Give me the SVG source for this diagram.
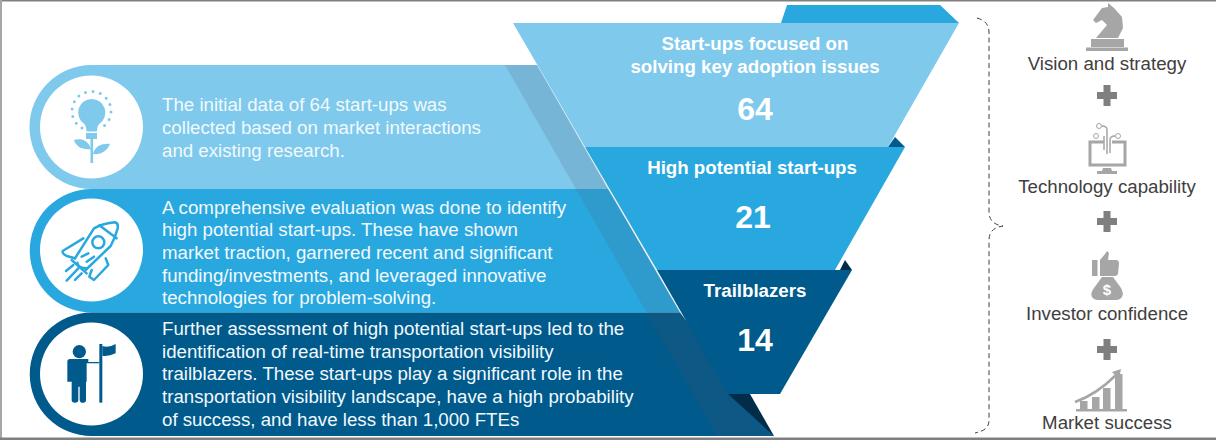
<svg xmlns="http://www.w3.org/2000/svg" width="1216" height="440" viewBox="0 0 1216 440">
<style>
text{font-family:"Liberation Sans",Arial,sans-serif}
.b{font-size:18.7px;fill:#f2f9fd}
.t{font-size:18.7px;font-weight:bold;fill:#fff;text-anchor:middle}
.n{font-size:32px;font-weight:bold;fill:#fff;text-anchor:middle}
.l{font-size:18.7px;fill:#404040;text-anchor:middle}
.g{fill:#a6a6a6}
.p{fill:#7f7f7f}
</style>
<rect width="1216" height="440" fill="#fff"/>
<g id="frame" fill="#a6a6a6"><rect width="1216" height="1.5" fill="#808080"/><rect y="0" width="2" height="440"/><rect y="437.500" width="1216" height="2.500" fill="#808080"/></g>
<g id="row1">
<path d="M91.5 65H537L608 189H91.500A62 62 0 0 1 91.500 65Z" fill="#7fc9ec"/>
<circle cx="91.500" cy="127" r="51.500" fill="#fff"/>
<g fill="#7fc9ec">
<path d="M91.700 99a13.500 13.500 0 0 1 8 24.500c-2 2-2.500 4-2.700 8h-10.500c-.2-4-.7-6-2.700-8a13.500 13.500 0 0 1 7.900-24.500Z"/>
<rect x="86" y="133" width="11" height="6"/><rect x="90.500" y="139" width="2.600" height="24"/>
<path d="M74 140c6-2 14-1 17 9c-8 1-15-2-17-9ZM110 144c-6-1-15 1-17 10c8 1 14-3 17-10Z"/>
</g>
<path d="M82 128A19.500 19.500 0 1 1 101 128" fill="none" stroke="#7fc9ec" stroke-width="3" stroke-linecap="round" stroke-dasharray="0 7.500"/>
<text class="b" x="162" y="111">The initial data of 64 start-ups was</text>
<text class="b" x="162" y="134">collected based on market interactions</text>
<text class="b" x="162" y="157">and existing research.</text>
</g>
<g id="row2">
<path d="M91.500 189H608L680 312.500H91.500A61.750 61.750 0 0 1 91.500 189Z" fill="#29a8e0"/>
<circle cx="91.500" cy="250" r="51.500" fill="#fff"/>
<g transform="translate(20 190) scale(.3333)" fill="none" stroke="#29a8e0" stroke-width="7.500" stroke-linejoin="round" stroke-linecap="round">
<path d="M165 205L222 115Q250 100 285 97Q296 100 293 115Q285 145 272 168L197 240"/>
<path d="M238 106L290 145"/>
<circle cx="235" cy="157" r="18"/>
<path d="M190 145L128 183Q125 190 140 198L165 205"/>
<path d="M257 205L265 225L222 270L208 260L215 240"/>
<path d="M155 210L200 250"/>
<path d="M172 218Q175 235 200 235"/>
<path d="M185 200L205 190M200 215L222 200"/>
<path d="M138 243L160 225M140 272L175 235M165 270L185 250"/>
</g>
<text class="b" x="162" y="214">A comprehensive evaluation was done to identify</text>
<text class="b" x="162" y="236">high potential start-ups. These have shown</text>
<text class="b" x="162" y="259">market traction, garnered recent and significant</text>
<text class="b" x="162" y="282">funding/investments, and leveraged innovative</text>
<text class="b" x="162" y="304">technologies for problem-solving.</text>
</g>
<g id="row3">
<path d="M91.500 312.500H680L774 436H91.500A61.750 61.750 0 0 1 91.500 312.500Z" fill="#005a8c"/>
<circle cx="91.500" cy="374" r="51.500" fill="#fff"/>
<g transform="translate(20 190) scale(.3333)" fill="#005a8c">
<circle cx="178" cy="485" r="20"/>
<path d="M150 507H205V516H238V520H200V575H198V630Q198 638 190 638H185Q180 638 179 630V590H175V630Q175 638 165 638Q155 638 155 630V575H142V515Q142 507 150 507Z"/>
<rect x="238" y="462" width="9" height="176"/>
<path d="M247 468Q265 475 287 462V490Q265 500 247 497Z"/>
</g>
<text class="b" x="162" y="335">Further assessment of high potential start-ups led to the</text>
<text class="b" x="162" y="358">identification of real-time transportation visibility</text>
<text class="b" x="162" y="380">trailblazers. These start-ups play a significant role in the</text>
<text class="b" x="162" y="403">transportation visibility landscape, have a high probability</text>
<text class="b" x="162" y="426">of success, and have less than 1,000 FTEs</text>
</g>
<g id="funnel-shadow">
<path d="M505 65H537L728 394L774 436H717Z" fill="#505064" fill-opacity=".16"/>
<path d="M728 394H750L774 436Z" fill="#022d4a"/>
</g>
<g id="funnel-1">
<path d="M781 23L787 5H940L959 23Z" fill="#29a8e0"/>
<path d="M888 147L895 137L905 147Z" fill="#005a8c"/>
<path d="M513 23H959L888 147H585Z" fill="#7fc9ec"/>
<text class="t" x="755" y="50">Start-ups focused on</text>
<text class="t" x="755" y="73">solving key adoption issues</text>
<text class="n" x="755" y="120">64</text>
</g>
<g id="funnel-2">
<path d="M840 270L845 260L852 270Z" fill="#022d4a"/>
<path d="M585 147H905L835 270H657Z" fill="#29a8e0"/>
<text class="t" x="752" y="174">High potential start-ups</text>
<text class="n" x="753" y="228">21</text>
</g>
<g id="funnel-3">
<path d="M657 270H852L780 394H728Z" fill="#005a8c"/>
<text class="t" x="755" y="297">Trailblazers</text>
<text class="n" x="755" y="351">14</text>
</g>
<g id="connectors">
<path d="M977 18C984 20 989 24 989 32V212C989 220 994 225 1003 226C994 227 989 232 989 240V420C989 428 984 431 975 433" fill="none" stroke="#404040" stroke-width="1" stroke-dasharray="5 3.500"/>
</g>
<g id="vision">
<path class="g" d="M1108 3L1114 8L1122 17L1123 28L1118 38H1096L1107 25L1102 20L1096 23L1093 20L1102 8L1108 7Z"/>
<rect class="g" x="1091" y="39" width="33" height="8"/><rect class="g" x="1086" y="47.500" width="42" height="3.500"/>
<text class="l" x="1107" y="70">Vision and strategy</text>
</g>
<path id="plus-1" class="p" d="M1103.500 85h7v7h6.500v7h-6.500v7h-7v-7h-6.500v-7h6.500Z"/>
<g id="technology">
<path d="M1104 142H1090V165H1125V142H1112" fill="none" stroke="#a6a6a6" stroke-width="3"/>
<path d="M1104 136V150M1107 154V130Q1107 126 1102 126M1110 153V140Q1110 136 1115 136" fill="none" stroke="#a6a6a6" stroke-width="1.500"/>
<g fill="#fff" stroke="#a6a6a6" stroke-width="1"><circle cx="1099" cy="126" r="2.500"/><circle cx="1096" cy="136" r="2.500"/><circle cx="1118" cy="136" r="2.500"/></g>
<path class="g" d="M1103 168H1111L1112 171H1117V174H1097V171H1102Z"/>
<text class="l" x="1107" y="193">Technology capability</text>
</g>
<path id="plus-2" class="p" d="M1103.500 211h7v7h6.500v7h-6.500v7h-7v-7h-6.500v-7h6.500Z"/>
<g id="investor">
<rect class="g" x="1092" y="260" width="5.500" height="16"/>
<path class="g" d="M1100 260L1105 254L1107 251L1109 253L1108 260L1117 260Q1119 261 1119 263L1118 274Q1117 276 1115 276H1100Z"/>
<path class="g" d="M1102 277H1113L1121 288Q1124 293 1122 297Q1120 300 1116 300H1098Q1094 300 1092 297Q1090 293 1094 288Z"/>
<text x="1107" y="295" font-size="15" font-weight="bold" fill="#fff" text-anchor="middle">$</text>
<text class="l" x="1107" y="320">Investor confidence</text>
</g>
<path id="plus-3" class="p" d="M1103.500 339h7v7h6.500v7h-6.500v7h-7v-7h-6.500v-7h6.500Z"/>
<g id="market">
<rect class="g" x="1080" y="401" width="7.500" height="8"/><rect class="g" x="1092" y="397" width="7.500" height="12"/><rect class="g" x="1103" y="388" width="7.500" height="21"/><rect class="g" x="1115" y="374" width="7.500" height="35"/>
<rect class="g" x="1076" y="409" width="51" height="2.500"/>
<path d="M1075 402C1092 396 1104 387 1116 375" fill="none" stroke="#a6a6a6" stroke-width="2.500"/>
<path class="g" d="M1121 369L1119 379L1112 372Z"/>
<text class="l" x="1107" y="429">Market success</text>
</g>
</svg>
